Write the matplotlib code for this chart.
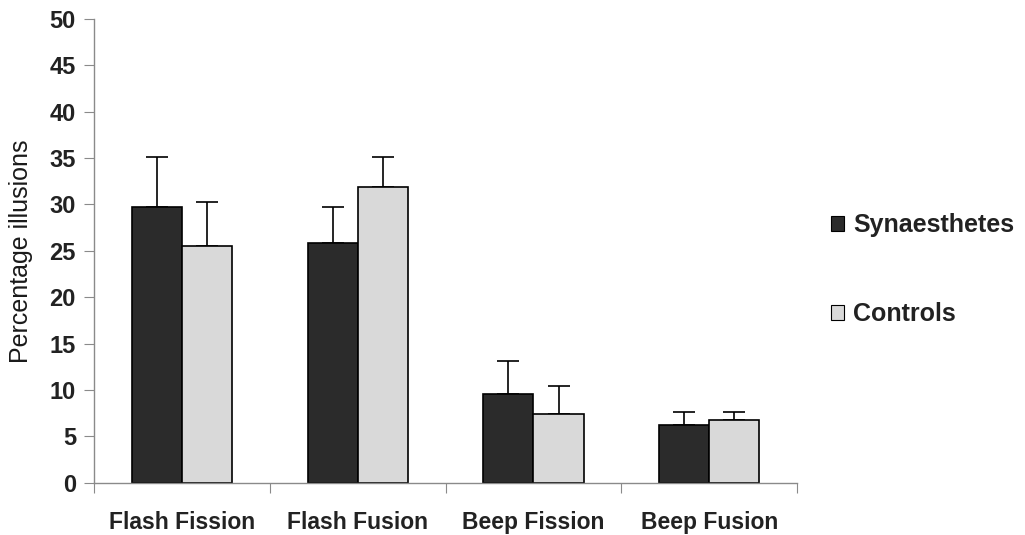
import numpy as np
import matplotlib
matplotlib.use("Agg")
import matplotlib.pyplot as plt
from matplotlib.patches import Patch

plt.rcParams['font.family'] = ['Liberation Sans', 'DejaVu Sans']

conditions = ["Flash Fission", "Flash Fusion", "Beep Fission", "Beep Fusion"]
synaesthetes = [29.7, 25.8, 9.6, 6.2]
synaesthetes_err = [5.4, 3.9, 3.5, 1.4]
controls = [25.5, 31.9, 7.4, 6.8]
controls_err = [4.8, 3.2, 3.0, 0.8]

DARK = '#2b2b2b'
LIGHT = '#d9d9d9'
AXIS = '#8a8a8a'
TEXT = '#222222'

fig = plt.figure(figsize=(10.25, 5.35), dpi=100)
ax = fig.add_axes([0.0917, 0.0977, 0.686, 0.8668])

x = np.arange(len(conditions))
w = 0.285
kw = dict(edgecolor='black', linewidth=1.2, zorder=2)
ax.bar(x - w / 2, synaesthetes, w, color=DARK, **kw)
ax.bar(x + w / 2, controls, w, color=LIGHT, **kw)

# upper error bars only
ax.errorbar(x - w / 2, synaesthetes, yerr=[np.zeros(4), synaesthetes_err],
            fmt='none', ecolor='black', elinewidth=1.2, capsize=8,
            capthick=1.2, zorder=1)
ax.errorbar(x + w / 2, controls, yerr=[np.zeros(4), controls_err],
            fmt='none', ecolor='black', elinewidth=1.2, capsize=8,
            capthick=1.2, zorder=1)

ax.set_xlim(-0.5, len(conditions) - 0.5)
ax.set_ylim(0, 50)
ax.set_yticks(range(0, 51, 5))
ax.set_xticks(np.arange(-0.5, len(conditions), 1.0), minor=False)
ax.set_xticklabels([])
ax.set_xticks(x, minor=True)
ax.set_xticklabels(conditions, minor=True)
ax.tick_params(axis='x', which='minor', length=0, pad=20,
               labelsize=16.5)
ax.tick_params(axis='x', which='major', length=7, color=AXIS, direction='out')
ax.tick_params(axis='y', length=7, color=AXIS, labelsize=17, pad=6,
               labelcolor=TEXT)
for lbl in ax.get_yticklabels() + ax.get_xticklabels(minor=True):
    lbl.set_fontweight('bold')
    lbl.set_color(TEXT)

for side in ('top', 'right'):
    ax.spines[side].set_visible(False)
for side in ('left', 'bottom'):
    ax.spines[side].set_color(AXIS)
    ax.spines[side].set_linewidth(1.0)

ax.set_ylabel('Percentage illusions', fontsize=18, color='#1a1a1a', labelpad=12)

handles = [Patch(facecolor=DARK, edgecolor='black', linewidth=0.8),
           Patch(facecolor=LIGHT, edgecolor='black', linewidth=0.8)]
leg = fig.legend(handles, ['Synaesthetes', 'Controls'], loc='upper left',
                 bbox_to_anchor=(0.789, 0.643), frameon=False,
                 prop={'size': 18, 'weight': 'bold'},
                 handlelength=0.52, handleheight=0.52, handletextpad=0.35,
                 labelspacing=2.6)
for t in leg.get_texts():
    t.set_color(TEXT)

fig.savefig('out.png', dpi=100, facecolor='white')
